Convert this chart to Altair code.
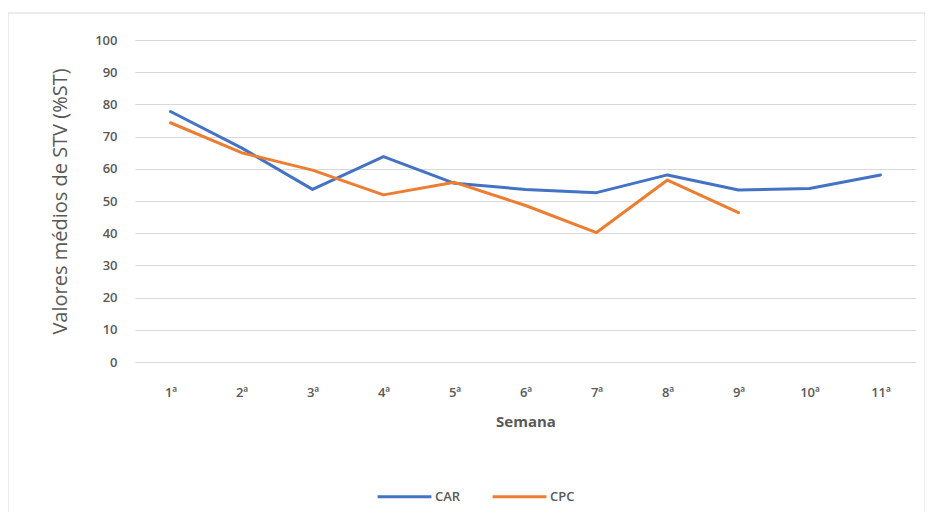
import altair as alt
import pandas as pd

semanas = ["1ª", "2ª", "3ª", "4ª", "5ª", "6ª", "7ª", "8ª", "9ª", "10ª", "11ª"]
car = [77.8, 66.5, 53.6, 63.8, 55.5, 53.6, 52.6, 58.1, 53.4, 53.9, 58.1]
cpc = [74.3, 65.0, 59.6, 51.9, 55.8, 48.6, 40.2, 56.5, 46.4]
series = ["CAR", "CPC"]
colors = ["#4472C4", "#ED7D31"]

rows = []
for name, vals in zip(series, [car, cpc]):
    for s, v in zip(semanas, vals):
        rows.append({"Semana": s, "Valor": v, "Serie": name})
df = pd.DataFrame(rows)

FONT = "Open Sans"
GRAY = "#595959"

border = alt.Chart(pd.DataFrame({"k": [0]})).mark_rect(
    fill="transparent", stroke="#d9d9d9", strokeWidth=1
).encode(
    x=alt.value(-127), x2=alt.value(790), y=alt.value(-27), y2=alt.value(520)
)

lines = alt.Chart(df).mark_line(strokeWidth=3, strokeJoin="round", strokeCap="round").encode(
    x=alt.X("Semana:O", sort=semanas,
            scale=alt.Scale(type="point", padding=0.5),
            axis=alt.Axis(title="Semana", labelAngle=0, ticks=False, domain=False, grid=False,
                          labelPadding=24, titlePadding=15, titleFontSize=15,
                          titleFontWeight="bold", labelFontSize=13, labelFontWeight=600,
                          labelFont=FONT, titleFont=FONT, labelColor=GRAY, titleColor=GRAY)),
    y=alt.Y("Valor:Q", scale=alt.Scale(domain=[0, 100], nice=False),
            axis=alt.Axis(title="Valores médios de STV (%ST)", values=list(range(0, 101, 10)),
                          ticks=False, domain=False, grid=True, gridColor="#d9d9d9",
                          labelPadding=18, titlePadding=24, titleFontSize=20,
                          titleFontWeight="normal", labelFontSize=13, labelFontWeight=600,
                          labelFont=FONT, titleFont=FONT, labelColor=GRAY, titleColor=GRAY)),
    color=alt.Color("Serie:N", scale=alt.Scale(domain=series, range=colors),
                    legend=alt.Legend(orient="none", legendX=241, legendY=428,
                                      direction="horizontal", title=None,
                                      symbolType="stroke", symbolStrokeWidth=3,
                                      symbolSize=2900, labelFontSize=13,
                                      labelFontWeight=600, labelColor=GRAY,
                                      labelFont=FONT, labelOffset=2, columnPadding=25)),
    detail="Serie:N",
)

chart = alt.layer(border, lines).properties(
    width=781, height=322,
    autosize=alt.AutoSizeParams(type="none"),
    padding={"left": 127, "top": 32, "right": 9, "bottom": 150},
    background="white",
).configure_view(strokeOpacity=0)

chart.save("out.html", embed_options={"renderer": "svg", "actions": False})
